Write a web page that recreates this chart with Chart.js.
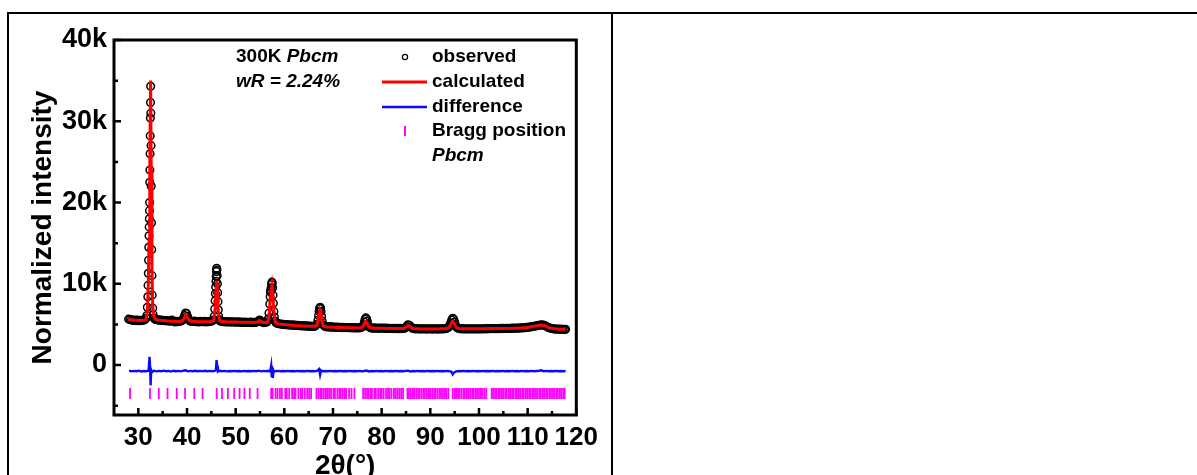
<!DOCTYPE html>
<html>
<head>
<meta charset="utf-8">
<script src="https://cdn.jsdelivr.net/npm/chart.js@4.4.1/dist/chart.umd.min.js"></script>
<style>
  html, body { margin: 0; padding: 0; background: #fff; overflow: hidden; }
  .hline { position: absolute; left: 7px; top: 12px; width: 1200px; height: 2px; background: #000; }
  .vline { position: absolute; top: 12px; width: 2px; height: 480px; background: #000; }
  #wrap { position: absolute; left: 9px; top: 14px; width: 596px; height: 461px; }
</style>
</head>
<body>
<div class="hline"></div>
<div class="vline" style="left:7px"></div>
<div class="vline" style="left:611px"></div>
<div id="wrap"><canvas id="chart"></canvas></div>
<script>
// tick positions and labels
const xTickValues = [30, 40, 50, 60, 70, 80, 90, 100, 110, 120];
const xTickLabels = ['30', '40', '50', '60', '70', '80', '90', '100', '110', '120'];
const xMinorTicks = [35, 45, 55, 65, 75, 85, 95, 105, 115];
const yTickValues = [0, 10000, 20000, 30000, 40000];
const yTickLabels = ['0', '10k', '20k', '30k', '40k'];
const yMinorTicks = [-5000, 5000, 15000, 25000, 35000];

// observed intensity (2theta, counts)
const observed = [
  [28.0,5650],[28.3,5600],[28.6,5560],[28.9,5480],[29.2,5540],[29.5,5470],[29.8,5520],[30.1,5450],[30.4,5500],[30.7,5470],[31.0,5530],[31.3,5560],[31.6,5750],
  [31.75,6100],[31.85,7100],[31.95,8400],[32.0,9800],[32.05,11300],[32.1,12900],[32.15,14500],[32.2,15900],[32.23,17000],[32.26,18000],[32.29,19000],[32.32,20000],
  [32.35,22500],[32.38,24000],[32.41,26000],[32.44,28200],[32.47,30400],[32.5,32300],[32.53,34300],[32.57,31000],[32.61,27000],[32.65,22000],[32.7,17500],
  [32.75,14200],[32.8,11000],[32.85,8600],[32.95,7000],[33.05,6200],[33.2,5800],[33.4,5650],
  [33.6,5600],[33.9,5580],[34.2,5520],[34.5,5560],[34.8,5480],[35.1,5500],[35.4,5450],[35.7,5480],[36.0,5420],[36.3,5450],[36.6,5380],[36.9,5520],[37.2,5400],
  [37.5,5300],[37.8,5380],[38.1,5330],[38.4,5360],[38.7,5400],[39.0,5480],[39.3,5750],[39.5,6100],[39.7,6400],[39.9,6350],[40.1,6000],[40.3,5650],[40.6,5420],
  [40.9,5380],[41.2,5350],[41.5,5400],[41.8,5330],[42.1,5360],[42.4,5300],[42.7,5380],[43.0,5340],[43.3,5320],[43.6,5380],[43.9,5300],[44.2,5360],[44.5,5330],
  [44.8,5380],[45.1,5400],[45.4,5550],
  [45.6,6000],[45.7,6900],[45.78,7900],[45.84,8800],[45.9,9600],[45.95,10300],[46.0,10900],[46.05,11500],[46.1,11900],[46.15,11700],[46.2,11000],[46.25,10000],
  [46.3,8900],[46.36,7800],[46.43,6800],[46.5,6000],[46.6,5600],[46.8,5420],
  [47.1,5380],[47.4,5320],[47.7,5360],[48.0,5300],[48.3,5340],[48.6,5290],[48.9,5330],[49.2,5280],[49.5,5330],[49.8,5300],[50.1,5260],[50.4,5320],[50.7,5280],
  [51.0,5250],[51.3,5300],[51.6,5240],[51.9,5280],[52.2,5230],[52.5,5270],[52.8,5240],[53.1,5280],[53.4,5220],[53.7,5260],[54.0,5230],[54.3,5280],[54.6,5350],
  [54.9,5550],[55.2,5420],[55.5,5260],[55.8,5220],[56.1,5250],[56.4,5300],[56.7,5700],
  [56.85,6400],[57.0,7500],[57.08,8400],[57.15,9000],[57.22,9200],[57.3,9500],[57.38,9900],[57.45,10200],[57.52,10100],[57.6,9500],[57.68,8600],[57.75,7600],
  [57.85,6600],[57.95,5900],[58.1,5400],[58.3,5200],
  [58.6,5120],[58.9,5080],[59.2,5050],[59.5,5000],[59.8,5020],[60.1,4950],[60.4,4990],[60.7,4930],[61.0,4960],[61.3,4900],[61.6,4940],[61.9,4880],[62.2,4920],
  [62.5,4860],[62.8,4890],[63.1,4830],[63.4,4870],[63.7,4810],[64.0,4850],[64.3,4790],[64.6,4820],[64.9,4760],[65.2,4800],[65.5,4760],[65.8,4780],[66.1,4750],
  [66.4,4820],[66.7,5000],
  [66.9,5500],[67.05,6100],[67.15,6600],[67.25,6950],[67.35,7100],[67.45,7000],[67.55,6600],[67.65,6000],[67.8,5400],[68.0,4950],[68.3,4780],
  [68.6,4720],[68.9,4690],[69.2,4730],[69.5,4660],[69.8,4700],[70.1,4640],[70.4,4680],[70.7,4620],[71.0,4660],[71.3,4610],[71.6,4640],[71.9,4590],[72.2,4630],
  [72.5,4600],[72.8,4620],[73.1,4580],[73.4,4620],[73.7,4570],[74.0,4610],[74.3,4560],[74.6,4600],[74.9,4560],[75.2,4590],[75.5,4570],[75.8,4620],[76.1,4720],
  [76.3,4950],[76.45,5300],[76.6,5650],[76.75,5800],[76.9,5700],[77.05,5400],[77.2,5000],[77.4,4700],[77.6,4600],
  [77.9,4560],[78.2,4530],[78.5,4570],[78.8,4520],[79.1,4560],[79.4,4510],[79.7,4550],[80.0,4520],[80.3,4550],[80.6,4500],[80.9,4540],[81.2,4490],[81.5,4530],
  [81.8,4500],[82.1,4520],[82.4,4480],[82.7,4520],[83.0,4480],[83.3,4510],[83.6,4470],[83.9,4510],[84.2,4480],[84.5,4500],[84.8,4560],[85.1,4750],[85.4,4950],
  [85.7,4900],[86.0,4700],[86.3,4520],[86.6,4480],[86.9,4450],[87.2,4490],[87.5,4440],[87.8,4470],[88.1,4430],[88.4,4470],[88.7,4430],[89.0,4460],[89.3,4420],
  [89.6,4460],[89.9,4430],[90.2,4450],[90.5,4420],[90.8,4460],[91.1,4430],[91.4,4450],[91.7,4420],[92.0,4460],[92.3,4440],[92.6,4470],[92.9,4450],[93.2,4490],
  [93.5,4550],[93.8,4680],
  [94.0,4900],[94.2,5200],[94.4,5550],[94.6,5750],[94.8,5650],[95.0,5300],[95.2,4900],[95.4,4650],[95.7,4520],
  [96.0,4480],[96.3,4450],[96.6,4480],[96.9,4440],[97.2,4470],[97.5,4430],[97.8,4470],[98.1,4440],[98.4,4460],[98.7,4430],[99.0,4470],[99.3,4440],[99.6,4460],
  [99.9,4430],[100.2,4470],[100.5,4440],[100.8,4470],[101.1,4450],[101.4,4480],[101.7,4450],[102.0,4480],[102.3,4460],[102.6,4490],[102.9,4460],[103.2,4490],
  [103.5,4470],[103.8,4500],[104.1,4470],[104.4,4510],[104.7,4480],[105.0,4510],[105.3,4490],[105.6,4520],[105.9,4490],[106.2,4530],[106.5,4500],[106.8,4540],
  [107.1,4510],[107.4,4550],[107.7,4520],[108.0,4560],[108.3,4540],[108.6,4580],[108.9,4560],[109.2,4600],[109.5,4590],[109.8,4630],[110.1,4640],[110.4,4680],
  [110.7,4700],[111.0,4740],[111.3,4760],[111.6,4800],[111.9,4830],[112.2,4880],[112.5,4900],[112.8,4950],[113.1,4920],[113.4,4880],[113.7,4800],[114.0,4700],
  [114.3,4620],[114.6,4560],[114.9,4500],[115.2,4470],[115.5,4440],[115.8,4420],[116.1,4430],[116.4,4400],[116.7,4420],[117.0,4390],[117.3,4410],[117.6,4380],
  [117.8,4400]
];

// Rietveld fit
const calculated = [
  [28.0,5600],[28.5,5560],[29.0,5520],[29.5,5500],[30.0,5480],[30.5,5480],[31.0,5500],[31.4,5560],[31.6,5650],[31.85,6600],[32.05,10000],[32.2,15500],
  [32.35,24000],[32.52,35000],[32.65,24000],[32.8,12000],[32.95,7500],[33.1,6200],[33.4,5700],[34.0,5550],[35.0,5480],[36.0,5420],[37.0,5400],[38.0,5350],
  [39.0,5420],[39.4,5700],[39.7,6150],[40.0,6000],[40.4,5550],[41.0,5380],[42.0,5350],[43.0,5340],[44.0,5340],[45.0,5370],[45.5,5500],[45.8,7000],[46.0,9500],
  [46.12,10400],[46.25,9000],[46.4,6800],[46.6,5600],[46.9,5380],[48.0,5320],[49.0,5300],[50.0,5280],[51.0,5270],[52.0,5250],[53.0,5250],[54.0,5240],[54.6,5320],
  [54.9,5480],[55.2,5380],[55.6,5240],[56.3,5230],[56.6,5300],[56.9,6200],[57.1,8300],[57.25,9000],[57.45,9800],[57.6,9000],[57.8,7000],[58.0,5700],[58.3,5150],
  [59.0,5050],[60.0,4980],[61.0,4930],[62.0,4880],[63.0,4840],[64.0,4810],[65.0,4780],[66.0,4760],[66.5,4800],[66.8,5100],[67.1,6200],[67.3,6800],[67.5,6500],
  [67.75,5300],[68.0,4850],[68.4,4720],[69.0,4690],[70.0,4660],[71.0,4630],[72.0,4610],[73.0,4590],[74.0,4580],[75.0,4570],[75.8,4590],[76.3,4850],[76.6,5300],
  [76.8,5350],[77.0,5150],[77.3,4750],[77.7,4580],[78.5,4540],[80.0,4520],[81.5,4500],[83.0,4490],[84.5,4500],[85.0,4650],[85.4,4850],[85.8,4780],[86.3,4500],
  [87.5,4450],[89.0,4440],[90.5,4440],[92.0,4450],[93.2,4480],[93.8,4600],[94.2,5000],[94.5,5350],[94.7,5300],[95.0,5000],[95.4,4600],[95.8,4480],[97.0,4450],
  [99.0,4450],[101.0,4460],[103.0,4480],[105.0,4500],[107.0,4520],[108.5,4560],[110.0,4630],[111.0,4730],[112.0,4850],[112.8,4920],[113.4,4870],[114.0,4700],
  [114.6,4550],[115.5,4450],[116.5,4410],[117.8,4400]
];

// observed - calculated, shifted down
const difference = [
  [28.1,-700],[28.6,-780],[29.1,-720],[29.6,-760],[30.1,-700],[30.6,-790],[31.1,-730],[31.6,-760],[32.1,-700],[32.3,1000],[32.42,-300],[32.52,-2500],[32.65,-600],
  [32.85,-850],[33.2,-700],[33.7,-780],[34.2,-720],[34.7,-760],[35.2,-690],[35.7,-770],[36.2,-720],[36.7,-800],[37.2,-700],[37.7,-760],[38.2,-720],[38.7,-780],
  [39.2,-700],[39.7,-650],[40.2,-780],[40.7,-720],[41.2,-760],[41.7,-700],[42.2,-770],[42.7,-720],[43.2,-750],[43.7,-700],[44.2,-760],[44.7,-720],[45.2,-770],
  [45.7,-720],[45.95,-600],[46.08,600],[46.2,-100],[46.35,-800],[46.7,-700],[47.2,-760],[47.7,-720],[48.2,-780],[48.7,-730],[49.2,-770],[49.7,-720],[50.2,-760],
  [50.7,-730],[51.2,-780],[51.7,-720],[52.2,-760],[52.7,-730],[53.2,-770],[53.7,-720],[54.2,-760],[54.7,-700],[55.2,-780],[55.7,-720],[56.2,-760],[56.7,-700],
  [57.1,-800],[57.3,-100],[57.42,-1500],[57.52,-300],[57.62,-1600],[57.8,-700],[58.2,-760],[58.7,-720],[59.2,-770],[59.7,-730],[60.2,-760],[60.7,-720],[61.2,-770],
  [61.7,-730],[62.2,-760],[62.7,-720],[63.2,-770],[63.7,-740],[64.2,-760],[64.7,-720],[65.2,-770],[65.7,-730],[66.2,-760],[66.7,-720],[67.15,-500],[67.35,-1200],
  [67.55,-650],[67.9,-780],[68.4,-730],[68.9,-760],[69.4,-720],[69.9,-770],[70.4,-730],[70.9,-760],[71.4,-720],[71.9,-770],[72.4,-730],[72.9,-760],[73.4,-720],
  [73.9,-770],[74.4,-730],[74.9,-760],[75.4,-720],[75.9,-770],[76.4,-730],[76.9,-680],[77.4,-790],[77.9,-730],[78.4,-760],[78.9,-720],[79.4,-770],[79.9,-730],
  [80.4,-760],[80.9,-720],[81.4,-770],[81.9,-730],[82.4,-760],[82.9,-720],[83.4,-770],[83.9,-730],[84.4,-760],[84.9,-720],[85.4,-700],[85.9,-790],[86.4,-730],
  [86.9,-760],[87.4,-720],[87.9,-770],[88.4,-730],[88.9,-760],[89.4,-720],[89.9,-770],[90.4,-730],[90.9,-760],[91.4,-720],[91.9,-770],[92.4,-730],[92.9,-760],
  [93.4,-720],[93.9,-770],[94.3,-800],[94.6,-1150],[94.9,-900],[95.3,-780],[95.8,-730],[96.3,-760],[96.8,-720],[97.3,-770],[97.8,-730],[98.3,-760],[98.8,-720],
  [99.3,-770],[99.8,-730],[100.3,-760],[100.8,-720],[101.3,-770],[101.8,-730],[102.3,-760],[102.8,-720],[103.3,-770],[103.8,-730],[104.3,-760],[104.8,-720],
  [105.3,-770],[105.8,-730],[106.3,-760],[106.8,-720],[107.3,-770],[107.8,-730],[108.3,-760],[108.8,-720],[109.3,-770],[109.8,-730],[110.3,-760],[110.8,-720],
  [111.3,-770],[111.8,-730],[112.3,-700],[112.8,-650],[113.3,-760],[113.8,-720],[114.3,-770],[114.8,-730],[115.3,-760],[115.8,-720],[116.3,-770],[116.8,-730],
  [117.3,-760],[117.8,-740]
];

// Bragg reflection positions (Pbcm)
const braggPositions = [
  28.3, 32.4, 34.2, 36.0, 37.9, 39.6, 41.5, 43.2, 46.1, 47.2, 48.4, 49.7, 50.8, 51.8, 52.9, 54.5,
  57.3, 57.6, 58.2, 58.6, 59.1, 59.5, 60.2, 60.5, 61.0, 61.6, 62.0, 62.3, 62.9, 63.4, 63.7, 64.2, 64.7, 65.1, 65.5,
  66.6, 67.0, 67.4, 67.7, 68.1, 68.5, 68.8, 69.2, 69.6, 70.1, 70.4, 70.9, 71.3, 71.6, 72.0, 72.4, 72.7, 73.3, 73.8, 74.4,
  76.2, 76.6, 77.0, 77.3, 77.7, 78.0, 78.5, 78.8, 79.3, 79.7, 80.0, 80.4, 80.9, 81.3, 81.6, 82.0, 82.5, 82.8, 83.2, 83.6, 84.0, 84.4,
  85.3, 85.6, 86.0, 86.4, 86.7, 87.1, 87.5, 87.8, 88.2, 88.6, 88.9, 89.3, 89.7, 90.0, 90.4, 90.8, 91.1, 91.5, 91.9, 92.2, 92.6, 93.0, 93.3, 93.7,
  94.6, 95.0, 95.3, 95.7, 96.0, 96.4, 96.8, 97.1, 97.5, 97.8, 98.2, 98.6, 98.9, 99.3, 99.6, 100.0, 100.4, 100.7, 101.1, 101.5,
  102.6, 102.9, 103.3, 103.6, 104.0, 104.3, 104.7, 105.0, 105.4, 105.7, 106.1, 106.4, 106.8, 107.1, 107.5, 107.8, 108.2, 108.5,
  108.9, 109.2, 109.6, 109.9, 110.3, 110.6, 111.0, 111.3, 111.7, 112.0, 112.4, 112.7, 113.1, 113.4, 113.8, 114.1, 114.5, 114.8,
  115.2, 115.5, 115.9, 116.2, 116.6, 116.9, 117.3, 117.6
];
const braggLevel = -3500;

const FONT = '"Liberation Sans", Arial, sans-serif';
Chart.defaults.font.family = FONT;
Chart.defaults.color = '#000';

// frame box, inward ticks, annotation text and legend
const decorations = {
  id: 'decorations',
  afterDraw(chart) {
    const { ctx, chartArea: ca, scales: { x, y } } = chart;
    const ds = chart.data.datasets;
    ctx.save();
    ctx.strokeStyle = '#000';
    ctx.lineWidth = 3;
    ctx.strokeRect(ca.left, ca.top, ca.right - ca.left, ca.bottom - ca.top);

    ctx.lineWidth = 2.5;
    ctx.beginPath();
    xTickValues.forEach(v => { const px = x.getPixelForValue(v); ctx.moveTo(px, ca.bottom); ctx.lineTo(px, ca.bottom - 7); });
    xMinorTicks.forEach(v => { const px = x.getPixelForValue(v); ctx.moveTo(px, ca.bottom); ctx.lineTo(px, ca.bottom - 4); });
    yTickValues.forEach(v => { const py = y.getPixelForValue(v); ctx.moveTo(ca.left, py); ctx.lineTo(ca.left + 7, py); });
    yMinorTicks.forEach(v => { const py = y.getPixelForValue(v); ctx.moveTo(ca.left, py); ctx.lineTo(ca.left + 4, py); });
    ctx.stroke();

    // annotation
    ctx.fillStyle = '#000';
    ctx.textBaseline = 'middle';
    ctx.textAlign = 'left';
    const ax = ca.left + 122;
    ctx.font = 'bold 19px ' + FONT;
    ctx.fillText('300K ', ax, ca.top + 17);
    const w = ctx.measureText('300K ').width;
    ctx.font = 'italic bold 19px ' + FONT;
    ctx.fillText('Pbcm', ax + w, ca.top + 17);
    ctx.fillText('wR = 2.24%', ax, ca.top + 42);

    // legend
    const sx = ca.left + 291, tx = ca.left + 318;
    const rows = [17, 42, 67, 91, 116].map(r => ca.top + r);
    ctx.lineWidth = 1.2;
    ctx.strokeStyle = ds[0].borderColor;
    ctx.beginPath(); ctx.arc(sx, rows[0], 2.6, 0, Math.PI * 2); ctx.stroke();
    ctx.lineWidth = 3;
    ctx.strokeStyle = ds[1].borderColor;
    ctx.beginPath(); ctx.moveTo(sx - 23, rows[1]); ctx.lineTo(sx + 22, rows[1]); ctx.stroke();
    ctx.lineWidth = 2.5;
    ctx.strokeStyle = ds[2].borderColor;
    ctx.beginPath(); ctx.moveTo(sx - 23, rows[2]); ctx.lineTo(sx + 22, rows[2]); ctx.stroke();
    ctx.lineWidth = 2;
    ctx.strokeStyle = ds[3].borderColor;
    ctx.beginPath(); ctx.moveTo(sx, rows[3] - 5); ctx.lineTo(sx, rows[3] + 5); ctx.stroke();

    ctx.font = 'bold 19px ' + FONT;
    ctx.fillText(ds[0].label, tx, rows[0]);
    ctx.fillText(ds[1].label, tx, rows[1]);
    ctx.fillText(ds[2].label, tx, rows[2]);
    ctx.fillText(ds[3].label, tx, rows[3]);
    ctx.font = 'italic bold 19px ' + FONT;
    ctx.fillText('Pbcm', tx, rows[4]);
    ctx.restore();
  }
};

new Chart(document.getElementById('chart'), {
  type: 'scatter',
  data: {
    datasets: [
      {
        label: 'observed',
        data: observed,
        pointStyle: 'circle',
        pointRadius: 3.8,
        borderWidth: 1.5,
        borderColor: '#000000',
        backgroundColor: 'rgba(0,0,0,0)',
        order: 3
      },
      {
        label: 'calculated',
        data: calculated,
        showLine: true,
        pointRadius: 0,
        borderWidth: 3,
        borderColor: '#ff0000',
        order: 0
      },
      {
        label: 'difference',
        data: difference,
        showLine: true,
        pointRadius: 0,
        borderWidth: 2.4,
        borderColor: '#0a0aff',
        order: 1
      },
      {
        label: 'Bragg position',
        data: braggPositions.map(p => ({ x: p, y: braggLevel })),
        pointStyle: 'line',
        rotation: 90,
        pointRadius: 5.5,
        borderWidth: 1.8,
        borderColor: '#ff00ff',
        order: 2
      }
    ]
  },
  options: {
    responsive: true,
    maintainAspectRatio: false,
    animation: false,
    events: [],
    layout: { padding: { top: 26, right: 26, left: 0, bottom: 0 } },
    plugins: { legend: { display: false }, tooltip: { enabled: false } },
    scales: {
      x: {
        type: 'linear',
        min: 25,
        max: 120,
        afterBuildTicks: s => { s.ticks = xTickValues.map(v => ({ value: v })); },
        afterFit: s => { s.height = 60; },
        ticks: {
          callback: (v, i) => xTickLabels[i],
          font: { size: 26, weight: 'bold' },
          color: '#000',
          padding: 7,
          maxRotation: 0,
          autoSkip: false
        },
        grid: { display: false, drawTicks: false },
        border: { display: false },
        title: {
          display: true,
          text: '2θ(°)',
          color: '#000',
          font: { size: 28, weight: 'bold', lineHeight: 0.6 },
          padding: 0
        }
      },
      y: {
        type: 'linear',
        min: -6150,
        max: 40000,
        afterBuildTicks: s => { s.ticks = yTickValues.map(v => ({ value: v })); },
        afterFit: s => { s.width = 105; },
        ticks: {
          callback: (v, i) => yTickLabels[i],
          font: { size: 27, weight: 'bold' },
          color: '#000',
          padding: 7
        },
        grid: { display: false, drawTicks: false },
        border: { display: false },
        title: {
          display: true,
          text: 'Normalized intensity',
          color: '#000',
          font: { size: 28, weight: 'bold' },
          padding: { top: 17 }
        }
      }
    }
  },
  plugins: [decorations]
});
</script>
</body>
</html>
